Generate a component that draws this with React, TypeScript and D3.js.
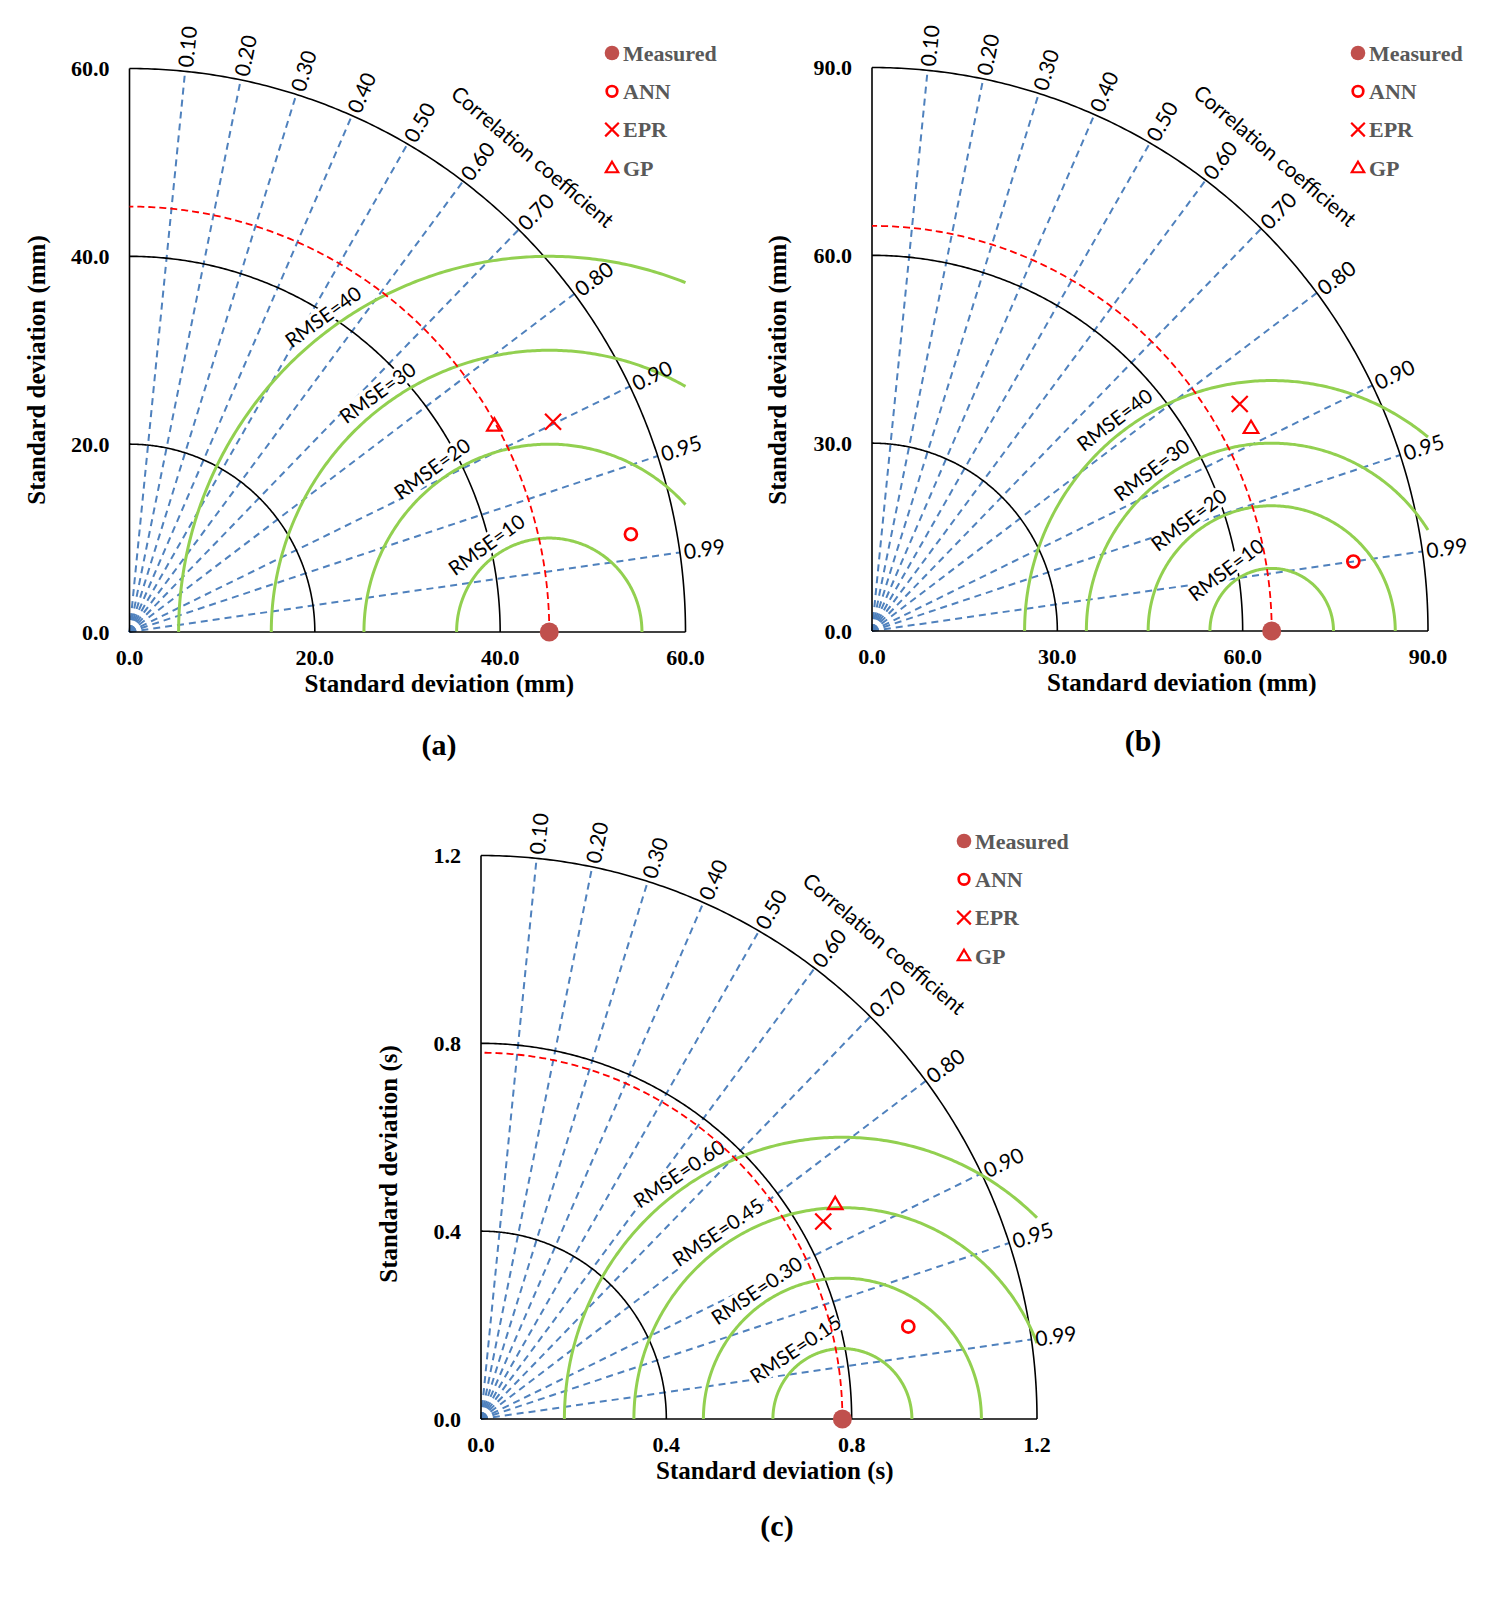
import * as d3 from "d3";

const MODELS = ["ANN", "EPR", "GP"];
const CORR_TICKS = [0.1, 0.2, 0.3, 0.4, 0.5, 0.6, 0.7, 0.8, 0.9, 0.95, 0.99];

// panel (a) - mm
const A_TICKS = [0, 20, 40, 60];
const A_ARCS = [20, 40];
const A_RMSE = [10, 20, 30, 40];
const A_MEASURED = 45.3;
const A_STD = [55.1, 50.9, 45.1];
const A_CORR = [0.982, 0.898, 0.873];

// panel (b) - mm
const B_TICKS = [0, 30, 60, 90];
const B_ARCS = [30, 60];
const B_RMSE = [10, 20, 30, 40];
const B_MEASURED = 64.7;
const B_STD = [78.7, 69.7, 69.4];
const B_CORR = [0.99, 0.854, 0.884];

// panel (c) - s
const C_TICKS = [0, 0.4, 0.8, 1.2];
const C_ARCS = [0.4, 0.8];
const C_RMSE = [0.15, 0.3, 0.45, 0.6];
const C_MEASURED = 0.78;
const C_STD = [0.943, 0.85, 0.891];
const C_CORR = [0.978, 0.869, 0.858];

const W = 556;
const H = 563.5;
const SERIF = "'Liberation Serif', 'Times New Roman', serif";
const SANS = "Lato, 'Open Sans', sans-serif";
const BLUE = "#4f81bd";
const GREEN = "#92d050";
const RED = "#ff0000";
const DOT = "#c0504d";

interface Panel {
  tag: string;
  unit: string;
  ticks: number[];
  arcs: number[];
  rmse: number[];
  measured: number;
  std: number[];
  corr: number[];
  rmseFmt: (v: number) => string;
  ox: number;
  oy: number;
  rmseAngle: number;
  yTitle: [number, number];
  tagPos: [number, number];
  legend: [number, number];
}

const PANELS: Panel[] = [
  {
    tag: "(a)", unit: "mm", ticks: A_TICKS, arcs: A_ARCS, rmse: A_RMSE,
    measured: A_MEASURED, std: A_STD, corr: A_CORR, rmseFmt: d3.format("d"),
    ox: 129.5, oy: 632, rmseAngle: 126, yTitle: [36, 370], tagPos: [439, 746], legend: [612, 53],
  },
  {
    tag: "(b)", unit: "mm", ticks: B_TICKS, arcs: B_ARCS, rmse: B_RMSE,
    measured: B_MEASURED, std: B_STD, corr: B_CORR, rmseFmt: d3.format("d"),
    ox: 872, oy: 631, rmseAngle: 127, yTitle: [777, 370], tagPos: [1143, 742], legend: [1358, 53],
  },
  {
    tag: "(c)", unit: "s", ticks: C_TICKS, arcs: C_ARCS, rmse: C_RMSE,
    measured: C_MEASURED, std: C_STD, corr: C_CORR, rmseFmt: d3.format(".2f"),
    ox: 481, oy: 1419, rmseAngle: 124, yTitle: [388, 1164], tagPos: [777, 1527], legend: [964, 841],
  },
];

function Marker({ name, cx, cy, legend }: { name: string; cx: number; cy: number; legend?: boolean }) {
  const k = legend ? 0.85 : 1;
  if (name === "Measured") return <circle cx={cx} cy={cy} r={legend ? 7.3 : 9.5} fill={DOT} />;
  if (name === "ANN")
    return <circle cx={cx} cy={cy} r={legend ? 5.3 : 6} fill="none" stroke={RED} strokeWidth={2.7} />;
  if (name === "EPR") {
    const h = 8 * k;
    return (
      <path d={`M${cx - h},${cy - h}L${cx + h},${cy + h}M${cx - h},${cy + h}L${cx + h},${cy - h}`}
        stroke={RED} strokeWidth={2.2} fill="none" />
    );
  }
  const s = 7.3 * k;
  return (
    <path d={`M${cx},${cy - s}L${cx + s},${cy + s * 0.7}L${cx - s},${cy + s * 0.7}Z`}
      stroke={RED} strokeWidth={2.2} fill="none" />
  );
}

function TaylorPanel({ p }: { p: Panel }) {
  const max = p.ticks[p.ticks.length - 1];
  const x = d3.scaleLinear().domain([0, max]).range([p.ox, p.ox + W]);
  const y = d3.scaleLinear().domain([0, max]).range([p.oy, p.oy - H]);
  const line = d3.line<[number, number]>().x((d) => x(d[0])).y((d) => y(d[1]));
  const arc = (cx: number, r: number, t0: number, t1: number) =>
    line(d3.range(0, 241).map((i) => {
      const t = t0 + ((t1 - t0) * i) / 240;
      return [cx + r * Math.cos(t), r * Math.sin(t)] as [number, number];
    })) || "";
  const kx = W / max;
  const ky = H / max;
  const tickFmt = d3.format(".1f");
  const outer = max;

  return (
    <g>
      {/* correlation rays */}
      {CORR_TICKS.map((c) => (
        <line key={c} x1={x(0)} y1={y(0)} x2={x(outer * c)} y2={y(outer * Math.sqrt(1 - c * c))}
          stroke={BLUE} strokeWidth={2} strokeDasharray="7,5" />
      ))}
      {/* std arcs */}
      {[...p.arcs, outer].map((r) => (
        <path key={r} d={arc(0, r, 0, Math.PI / 2)} fill="none" stroke="#000" strokeWidth={1.6} />
      ))}
      <line x1={x(0)} y1={y(0)} x2={x(max)} y2={y(0)} stroke="#000" strokeWidth={1.6} />
      <line x1={x(0)} y1={y(0)} x2={x(0)} y2={y(max)} stroke="#000" strokeWidth={1.6} />
      {/* rmse arcs */}
      {p.rmse.map((r) => {
        const t0 = p.measured + r > max ? Math.acos((max - p.measured) / r) : 0;
        const t1 = p.measured - r < 0 ? Math.acos(-p.measured / r) : Math.PI;
        return <path key={r} d={arc(p.measured, r, t0, t1)} fill="none" stroke={GREEN} strokeWidth={3} />;
      })}
      {p.rmse.map((r) => {
        const t = (p.rmseAngle * Math.PI) / 180;
        const px = x(p.measured) + (r * kx + 14) * Math.cos(t);
        const py = y(0) - (r * ky + 14) * Math.sin(t);
        const label = `RMSE=${p.rmseFmt(r)}`;
        const w = label.length * 11 + 4;
        return (
          <g key={r} transform={`translate(${px},${py}) rotate(${90 - p.rmseAngle})`}>
            <rect x={-w / 2} y={-10} width={w} height={20} fill="#fff" />
            <text textAnchor="middle" dy="0.36em" fontFamily={SANS} fontSize={20} fill="#000">{label}</text>
          </g>
        );
      })}
      {/* measured std circle */}
      <path d={arc(0, p.measured, 0, Math.PI / 2)} fill="none" stroke={RED} strokeWidth={1.8} strokeDasharray="7,4" />
      {/* correlation labels */}
      {CORR_TICKS.map((c) => {
        const ex = x(outer * c) - p.ox;
        const ey = p.oy - y(outer * Math.sqrt(1 - c * c));
        const phi = Math.atan2(ey, ex);
        const len = Math.hypot(ex, ey) + 4;
        return (
          <text key={c} transform={`translate(${p.ox + len * Math.cos(phi)},${p.oy - len * Math.sin(phi)}) rotate(${(-phi * 180) / Math.PI})`}
            dy="0.36em" fontFamily={SANS} fontSize={21} fill="#000">
            {d3.format(".2f")(c)}
          </text>
        );
      })}
      {(() => {
        const phi = (49.7 * Math.PI) / 180;
        const d = 1.121 * W;
        return (
          <text transform={`translate(${p.ox + d * Math.cos(phi)},${p.oy - d * Math.sin(phi)}) rotate(${90 - 49.7})`}
            textAnchor="middle" dy="0.36em" fontFamily={SANS} fontSize={21} fill="#000">
            Correlation coefficient
          </text>
        );
      })()}
      {/* tick labels */}
      {p.ticks.map((t) => (
        <text key={`x${t}`} x={x(t)} y={p.oy + 33} textAnchor="middle" fontFamily={SERIF} fontWeight="bold" fontSize={22}>
          {tickFmt(t)}
        </text>
      ))}
      {p.ticks.map((t) => (
        <text key={`y${t}`} x={p.ox - 20} y={y(t)} dy="0.35em" textAnchor="end" fontFamily={SERIF} fontWeight="bold" fontSize={22}>
          {tickFmt(t)}
        </text>
      ))}
      <text x={p.ox + 175} y={p.oy + 60} fontFamily={SERIF} fontWeight="bold" fontSize={25}>
        {`Standard deviation (${p.unit})`}
      </text>
      <text transform={`translate(${p.yTitle[0]},${p.yTitle[1]}) rotate(-90)`} textAnchor="middle" dy="0.35em"
        fontFamily={SERIF} fontWeight="bold" fontSize={25}>
        {`Standard deviation (${p.unit})`}
      </text>
      <text x={p.tagPos[0]} y={p.tagPos[1] + 9} textAnchor="middle" fontFamily={SERIF} fontWeight="bold" fontSize={30}>
        {p.tag}
      </text>
      {/* points */}
      {MODELS.map((m, i) => (
        <Marker key={m} name={m} cx={x(p.std[i] * p.corr[i])} cy={y(p.std[i] * Math.sqrt(1 - p.corr[i] ** 2))} />
      ))}
      <Marker name="Measured" cx={x(p.measured)} cy={y(0)} />
      {/* legend */}
      {["Measured", ...MODELS].map((m, i) => (
        <g key={m}>
          <Marker name={m} cx={p.legend[0]} cy={p.legend[1] + i * 38.3} legend />
          <text x={p.legend[0] + 11} y={p.legend[1] + i * 38.3} dy="0.35em" fontFamily={SERIF} fontWeight="bold"
            fontSize={22} fill="#595959">
            {m}
          </text>
        </g>
      ))}
    </g>
  );
}

export default function App() {
  return (
    <svg width={1500} height={1600} style={{ position: "absolute", left: 0, top: 0, background: "#fff" }}>
      <rect width={1500} height={1600} fill="#fff" />
      {PANELS.map((p) => (
        <TaylorPanel key={p.tag} p={p} />
      ))}
    </svg>
  );
}
